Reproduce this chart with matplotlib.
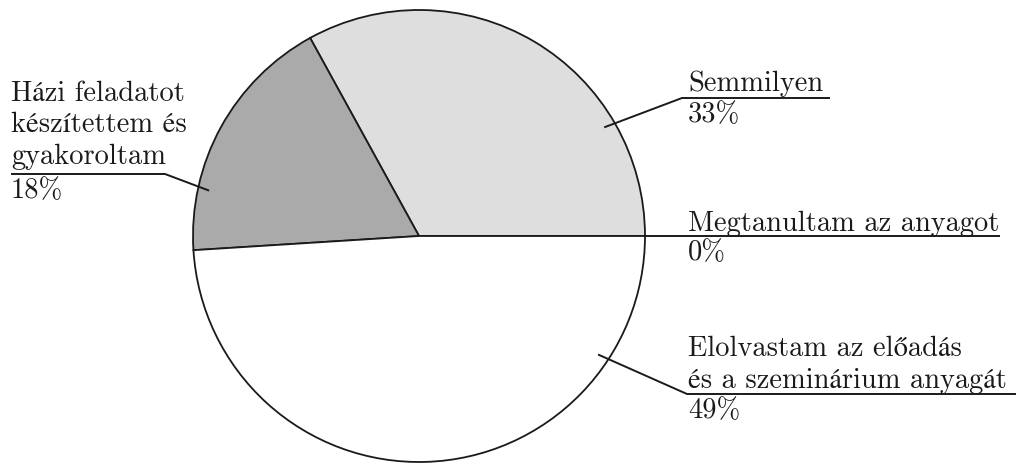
import numpy as np
import matplotlib
matplotlib.use('Agg')
import matplotlib.pyplot as plt

plt.rcParams['font.family'] = ['cmr10', 'STIXGeneral']
plt.rcParams['axes.formatter.use_mathtext'] = True

# adatok (az óramutatóval ellentétes sorrendben, 0 foktól)
labels = [
    ['Megtanultam az anyagot'],
    ['Semmilyen'],
    ['Házi feladatot', 'készítettem és', 'gyakoroltam'],
    ['Elolvastam az előadás', 'és a szeminárium anyagát'],
]
values = [0, 33, 18, 49]
colors = ['#dedede', '#dedede', '#aaaaaa', '#ffffff']

# címkék elhelyezése (pixel koordináták, y lefelé)
anchor_angle = [0, 30.4, 167.8, 326.5]
anchor_r = [1.0, 0.95, 0.95, 0.95]
elbow = [(688, 237), (682, 99), (165, 175), (687, 395)]
line_end = [1000, 830, 11, 1016]
text_x = [688, 688, 11, 688]
text_gap = [6, 8, 11, 7]

W, H = 1016, 464
cx, cy, R = 419, 237, 226

fig = plt.figure(figsize=(W / 100, H / 100), dpi=100)
ax = fig.add_axes([0, 0, 1, 1])

ax.pie(values, colors=colors, startangle=0, counterclock=True,
       center=(cx, H - cy), radius=R, frame=True,
       wedgeprops=dict(edgecolor='#1a1a1a', linewidth=1.3))
ax.set_xlim(0, W)
ax.set_ylim(0, H)
ax.set_aspect('equal')
ax.axis('off')

fs = 20.5
lh = 31.5
for i, lines in enumerate(labels):
    a = np.deg2rad(anchor_angle[i])
    x0 = cx + anchor_r[i] * R * np.cos(a)
    y0 = cy - anchor_r[i] * R * np.sin(a)
    ex, ey = elbow[i]
    ax.plot([x0, ex, line_end[i]], [H - y0, H - ey, H - ey],
            color='#1a1a1a', lw=1.4, solid_capstyle='butt')
    n = len(lines)
    for j, ln in enumerate(lines):
        base = ey - text_gap[i] - (n - 1 - j) * lh
        ax.text(text_x[i], H - base, ln, fontsize=fs, va='baseline',
                ha='left', color='#1a1a1a')
    ax.text(text_x[i], H - (ey + 23), f'{values[i]}%', fontsize=fs,
            va='baseline', ha='left', color='#1a1a1a')

fig.savefig('out.png', dpi=100)
